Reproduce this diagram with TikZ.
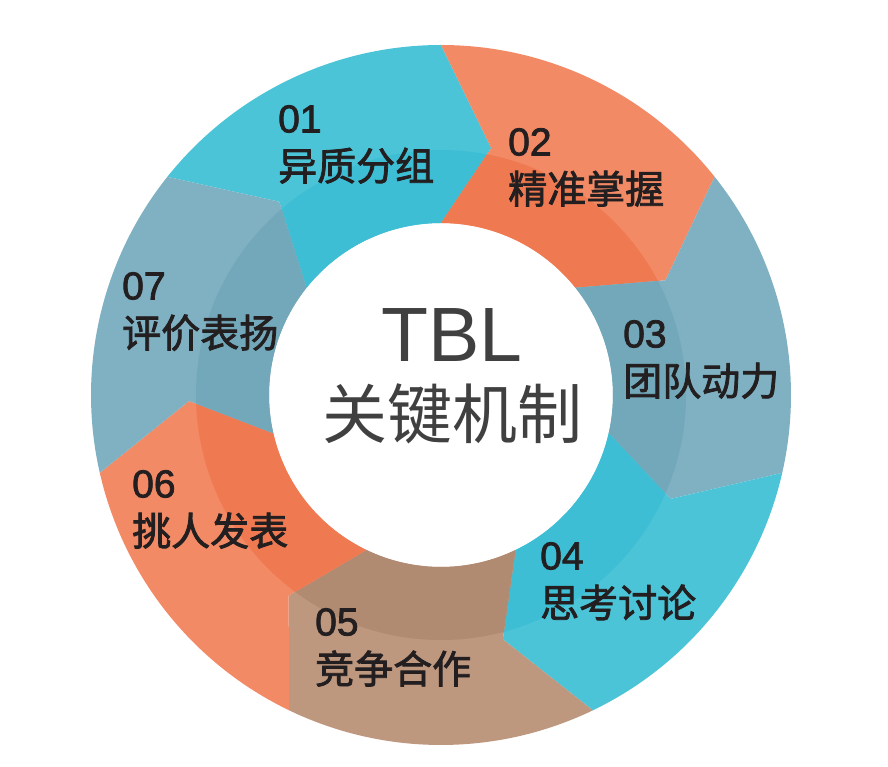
\documentclass[tikz,border=0pt]{standalone}
\usepackage{fontspec}
\setmainfont{Liberation Sans}
\newfontfamily\numfont[FakeBold=2]{Liberation Sans}
\newfontfamily\cjk{Noto Sans CJK SC}
\newfontfamily\cjklbl[FakeBold=2]{Noto Sans CJK SC}
\definecolor{cyanL}{HTML}{4CC4D8}
\definecolor{cyanD}{HTML}{3EBED4}
\definecolor{orangeL}{HTML}{F38A66}
\definecolor{orangeD}{HTML}{EF7A52}
\definecolor{greyL}{HTML}{7FB1C2}
\definecolor{greyD}{HTML}{73A8BA}
\definecolor{brownL}{HTML}{BE977F}
\definecolor{brownD}{HTML}{B18A72}
\definecolor{labeltext}{HTML}{231F20}
\definecolor{centretext}{HTML}{404040}
\tikzset{lbl/.style={anchor=north west, inner sep=0pt, align=left, text=labeltext,
    font=\numfont\fontsize{39}{48}\selectfont}}
\begin{document}
\begin{tikzpicture}[x=1pt,y=1pt]
\useasboundingbox (0,0) rectangle (888,766);
\coordinate (c) at (441,371);
% ring of arrow segments, clockwise
\begin{scope}[shift={(c)}]
\foreach \i/\cl/\cd in {0/cyanL/cyanD,1/orangeL/orangeD,2/greyL/greyD,3/cyanL/cyanD,4/brownL/brownD,5/orangeL/orangeD,6/greyL/greyD}{
  \pgfmathsetmacro\s{141.4286-51.4286*\i}
  \pgfmathsetmacro\e{\s-51.4286}
  \fill[\cl] (\s:350) arc[start angle=\s, end angle=\e, radius=350] -- (\e-11.5:252)
    -- (\e:172) arc[start angle=\e, end angle=\s, radius=172] -- (\s-11.5:252) -- cycle;
  \begin{scope}
    \clip (0,0) circle[radius=245];
    \fill[\cd] (\s:350) arc[start angle=\s, end angle=\e, radius=350] -- (\e-11.5:252)
      -- (\e:172) arc[start angle=\e, end angle=\s, radius=172] -- (\s-11.5:252) -- cycle;
  \end{scope}
}
\end{scope}
% labels
\foreach \i/\x/\y/\t in {1/278/661/异质分组,2/508/638/精准掌握,3/623/446/团队动力,4/540/224/思考讨论,5/315/158/竞争合作,6/132/296/挑人发表,7/122/494/评价表扬}
  \node[lbl] (l\i) at (\x,\y) {0\i\\{\cjklbl\t}};
% centre
\node[font=\fontsize{77}{77}\selectfont, text=centretext, anchor=base, inner sep=0pt] (tbl) at (452,404) {TBL};
\node[font=\cjk\fontsize{65}{65}\selectfont, text=centretext, inner sep=0pt] (key) at (452,352) {关键机制};
\end{tikzpicture}
\end{document}
